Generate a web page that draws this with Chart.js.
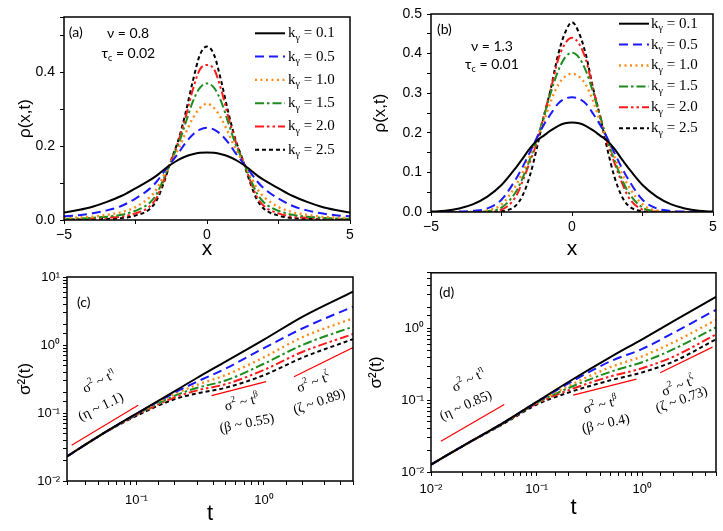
<!DOCTYPE html>
<html lang="en">
<head>
<meta charset="UTF-8">
<title>rho(x,t) and sigma^2(t)</title>
<script src="https://cdn.jsdelivr.net/npm/chart.js"></script>
<style>
  body { margin: 0; background: #fff; }
  #page { position: relative; width: 723px; height: 531px; background: #fff; }
  #page canvas { position: absolute; }
</style>
</head>
<body>
<div id="page">
  <canvas id="chartA" width="362" height="262" style="left:0;top:0"></canvas>
  <canvas id="chartB" width="361" height="262" style="left:362px;top:0"></canvas>
  <canvas id="chartC" width="362" height="269" style="left:0;top:262px"></canvas>
  <canvas id="chartD" width="361" height="269" style="left:362px;top:262px"></canvas>
</div>

<script>
// ---- data ----
const kValues = ['0.1', '0.5', '1.0', '1.5', '2.0', '2.5'];

// panels (a) and (b): rho(x,t) against x
const xGrid = [-5, -4.5, -4, -3.5, -3, -2.5, -2, -1.75, -1.5, -1.25, -1, -0.75, -0.5, -0.25, 0,
               0.25, 0.5, 0.75, 1, 1.25, 1.5, 1.75, 2, 2.5, 3, 3.5, 4, 4.5, 5];

const rhoA01 = [0.020, 0.027, 0.036, 0.049, 0.065, 0.086, 0.108, 0.121, 0.137, 0.151, 0.163, 0.172, 0.178, 0.182, 0.183,
                0.182, 0.178, 0.172, 0.163, 0.151, 0.137, 0.121, 0.108, 0.086, 0.065, 0.049, 0.036, 0.027, 0.020];
const rhoA05 = [0.010, 0.013, 0.018, 0.026, 0.038, 0.058, 0.085, 0.105, 0.131, 0.156, 0.181, 0.209, 0.231, 0.245, 0.250,
                0.245, 0.231, 0.209, 0.181, 0.156, 0.131, 0.105, 0.085, 0.058, 0.038, 0.026, 0.018, 0.013, 0.010];
const rhoA10 = [0.005, 0.007, 0.009, 0.014, 0.021, 0.035, 0.062, 0.085, 0.123, 0.159, 0.192, 0.235, 0.275, 0.303, 0.315,
                0.303, 0.275, 0.235, 0.192, 0.159, 0.123, 0.085, 0.062, 0.035, 0.021, 0.014, 0.009, 0.007, 0.005];
const rhoA15 = [0.003, 0.004, 0.006, 0.009, 0.014, 0.025, 0.047, 0.072, 0.115, 0.161, 0.205, 0.262, 0.320, 0.358, 0.370,
                0.358, 0.320, 0.262, 0.205, 0.161, 0.115, 0.072, 0.047, 0.025, 0.014, 0.009, 0.006, 0.004, 0.003];
const rhoA20 = [0.002, 0.003, 0.004, 0.006, 0.009, 0.018, 0.037, 0.062, 0.109, 0.162, 0.213, 0.278, 0.352, 0.408, 0.420,
                0.408, 0.352, 0.278, 0.213, 0.162, 0.109, 0.062, 0.037, 0.018, 0.009, 0.006, 0.004, 0.003, 0.002];
const rhoA25 = [0.001, 0.0015, 0.002, 0.003, 0.005, 0.012, 0.030, 0.055, 0.103, 0.163, 0.217, 0.290, 0.375, 0.447, 0.470,
                0.447, 0.375, 0.290, 0.217, 0.163, 0.103, 0.055, 0.030, 0.012, 0.005, 0.003, 0.002, 0.0015, 0.001];

const rhoB01 = [0.001, 0.003, 0.009, 0.020, 0.039, 0.068, 0.111, 0.135, 0.160, 0.180, 0.193, 0.206, 0.217, 0.224, 0.226,
                0.224, 0.217, 0.206, 0.193, 0.180, 0.160, 0.135, 0.111, 0.068, 0.039, 0.020, 0.009, 0.003, 0.001];
const rhoB05 = [0.000, 0.000, 0.001, 0.003, 0.009, 0.031, 0.082, 0.114, 0.150, 0.187, 0.220, 0.248, 0.273, 0.286, 0.290,
                0.286, 0.273, 0.248, 0.220, 0.187, 0.150, 0.114, 0.082, 0.031, 0.009, 0.003, 0.001, 0.000, 0.000];
const rhoB10 = [0.000, 0.000, 0.000, 0.001, 0.004, 0.019, 0.066, 0.100, 0.140, 0.185, 0.228, 0.280, 0.320, 0.342, 0.349,
                0.342, 0.320, 0.280, 0.228, 0.185, 0.140, 0.100, 0.066, 0.019, 0.004, 0.001, 0.000, 0.000, 0.000];
const rhoB15 = [0.000, 0.000, 0.000, 0.000, 0.002, 0.011, 0.050, 0.086, 0.132, 0.182, 0.240, 0.302, 0.355, 0.390, 0.402,
                0.390, 0.355, 0.302, 0.240, 0.182, 0.132, 0.086, 0.050, 0.011, 0.002, 0.000, 0.000, 0.000, 0.000];
const rhoB20 = [0.000, 0.000, 0.000, 0.000, 0.001, 0.006, 0.038, 0.078, 0.125, 0.175, 0.243, 0.310, 0.383, 0.425, 0.440,
                0.425, 0.383, 0.310, 0.243, 0.175, 0.125, 0.078, 0.038, 0.006, 0.001, 0.000, 0.000, 0.000, 0.000];
const rhoB25 = [0.000, 0.000, 0.000, 0.000, 0.000, 0.002, 0.016, 0.042, 0.090, 0.160, 0.240, 0.312, 0.395, 0.452, 0.479,
                0.452, 0.395, 0.312, 0.240, 0.160, 0.090, 0.042, 0.016, 0.002, 0.000, 0.000, 0.000, 0.000, 0.000];

// panel (c): sigma^2(t), nu = 0.8
const tC = [0.0285, 0.05, 0.1, 0.2, 0.3, 0.5, 1, 2, 5];
const sigC01 = [0.023, 0.045, 0.098, 0.21, 0.33, 0.57, 1.2, 2.6, 6.1];
const sigC05 = [0.023, 0.045, 0.097, 0.20, 0.29, 0.45, 0.90, 1.75, 3.66];
const sigC10 = [0.023, 0.045, 0.096, 0.19, 0.26, 0.36, 0.66, 1.3, 2.47];
const sigC15 = [0.023, 0.045, 0.095, 0.18, 0.235, 0.30, 0.53, 1.0, 1.86];
const sigC20 = [0.023, 0.045, 0.093, 0.17, 0.215, 0.265, 0.43, 0.79, 1.45];
const sigC25 = [0.023, 0.045, 0.091, 0.16, 0.195, 0.235, 0.36, 0.65, 1.22];
const etaC_t = [0.031, 0.103],  etaC_y = [0.0335, 0.13];
const betaC_t = [0.388, 1.04],  betaC_y = [0.18, 0.29];
const zetaC_t = [1.72, 5.0],    zetaC_y = [0.342, 0.92];

// panel (d): sigma^2(t), nu = 1.3
const tD = [0.01, 0.02, 0.05, 0.1, 0.2, 0.5, 1, 2, 5];
const sigD01 = [0.0127, 0.023, 0.05, 0.095, 0.18, 0.40, 0.71, 1.28, 2.77];
const sigD05 = [0.0127, 0.023, 0.05, 0.094, 0.172, 0.35, 0.52, 0.88, 1.83];
const sigD10 = [0.0127, 0.023, 0.05, 0.093, 0.158, 0.29, 0.41, 0.65, 1.32];
const sigD15 = [0.0127, 0.023, 0.049, 0.092, 0.148, 0.25, 0.34, 0.52, 1.04];
const sigD20 = [0.0127, 0.023, 0.049, 0.090, 0.138, 0.215, 0.28, 0.41, 0.83];
const sigD25 = [0.0127, 0.023, 0.048, 0.087, 0.128, 0.19, 0.245, 0.35, 0.71];
const etaD_t = [0.0124, 0.0494], etaD_y = [0.0268, 0.0875];
const betaD_t = [0.222, 0.883],  betaD_y = [0.118, 0.197];
const zetaD_t = [1.48, 4.63],    zetaD_y = [0.242, 0.551];

// ---- styles ----
const SANS = '"Liberation Sans", Arial, sans-serif';
const SERIF = '"Liberation Serif", "Times New Roman", serif';
const NOTE = 'Lato, "Open Sans", sans-serif';

const curveStyles = [
  { color: '#000000', dash: [], width: 2 },
  { color: '#1a1aff', dash: [9, 5], width: 2 },
  { color: '#ff8c1a', dash: [2, 3.5], width: 2.4 },
  { color: '#1e8c1e', dash: [9, 3, 2.5, 3], width: 2 },
  { color: '#ff1a1a', dash: [9, 3, 2.5, 3, 2.5, 3], width: 2 },
  { color: '#000000', dash: [4, 3], width: 2 }
];

// text with sub/superscript pieces: [text, 0 | 1 (sup) | -1 (sub)]
function drawRich(ctx, parts, x, y, align, family, size) {
  const small = Math.round(size * 0.65);
  let total = 0;
  const widths = parts.map(p => {
    ctx.font = (p[1] ? small : size) + 'px ' + family;
    const w = ctx.measureText(p[0]).width;
    total += w;
    return w;
  });
  let cx = align === 'center' ? x - total / 2 : (align === 'right' ? x - total : x);
  ctx.textAlign = 'left';
  ctx.textBaseline = 'middle';
  parts.forEach((p, i) => {
    ctx.font = (p[1] ? small : size) + 'px ' + family;
    const dy = p[1] === 1 ? -size * 0.38 : (p[1] === -1 ? size * 0.32 : 0);
    ctx.fillText(p[0], cx, y + dy);
    cx += widths[i];
  });
}

function curveSets(xs, series) {
  return series.map((ys, i) => ({
    data: xs.map((x, j) => ({ x: x, y: ys[j] })),
    borderColor: curveStyles[i].color,
    borderDash: curveStyles[i].dash,
    borderWidth: curveStyles[i].width,
    pointRadius: 0,
    cubicInterpolationMode: 'monotone',
    fill: false
  }));
}

function slopeSet(ts, ys) {
  return {
    data: ts.map((t, j) => ({ x: t, y: ys[j] })),
    borderColor: '#ff0000', borderWidth: 1.2, pointRadius: 0, tension: 0, fill: false
  };
}

const SUP = { '-': '\u207B', '0': '\u2070', '1': '\u00B9', '2': '\u00B2', '3': '\u00B3' };
function powLabel(v) {
  const e = Math.log10(v);
  if (Math.abs(e - Math.round(e)) > 1e-6) return '';
  return '10' + String(Math.round(e)).split('').map(c => SUP[c]).join('');
}

function axis(o) {
  return {
    type: o.type,
    position: o.pos,
    min: o.min,
    max: o.max,
    afterFit: o.pos === 'left' ? s => { s.width = o.size; } : s => { s.height = o.size; },
    border: { display: false },
    grid: { drawOnChartArea: false, drawTicks: true, tickLength: o.tl, tickColor: '#000', tickWidth: 1 },
    ticks: {
      stepSize: o.step, autoSkip: false, maxRotation: 0, padding: o.tp, color: '#000',
      font: { family: SANS, size: o.fs }, callback: o.cb
    },
    title: {
      display: true, text: o.title, color: '#000',
      font: { family: SANS, size: o.tfs }, padding: o.tpad
    }
  };
}

const framePlugin = {
  id: 'frame',
  afterDatasetsDraw(chart) {
    const a = chart.chartArea, ctx = chart.ctx;
    ctx.save();
    ctx.strokeStyle = '#000';
    ctx.lineWidth = 1.5;
    ctx.strokeRect(a.left, a.top, a.right - a.left, a.bottom - a.top);
    ctx.restore();
  }
};

function legendPlugin(lg) {
  return {
    id: 'kLegend',
    afterDatasetsDraw(chart) {
      if (!lg) return;
      const a = chart.chartArea, ctx = chart.ctx;
      ctx.save();
      kValues.forEach((k, i) => {
        const ds = chart.data.datasets[i];
        const y = a.top + lg.top + i * lg.gap;
        ctx.strokeStyle = ds.borderColor;
        ctx.lineWidth = ds.borderWidth;
        ctx.setLineDash(ds.borderDash);
        ctx.beginPath();
        ctx.moveTo(a.right - lg.x0, y);
        ctx.lineTo(a.right - lg.x1, y);
        ctx.stroke();
        ctx.setLineDash([]);
        ctx.fillStyle = '#000';
        drawRich(ctx, [['k', 0], ['\u03B3', -1], [' = ' + k, 0]], a.right - lg.tx, y, 'left', SERIF, lg.fs);
      });
      ctx.restore();
    }
  };
}

function notesPlugin(items) {
  return {
    id: 'notes',
    afterDatasetsDraw(chart) {
      const ctx = chart.ctx, xs = chart.scales.x, ys = chart.scales.y;
      items.forEach(n => {
        ctx.save();
        ctx.translate(xs.getPixelForValue(n.x), ys.getPixelForValue(n.y));
        ctx.rotate((n.angle || 0) * Math.PI / 180);
        ctx.fillStyle = '#000';
        drawRich(ctx, n.parts, 0, 0, n.align || 'center', n.family, n.size);
        ctx.restore();
      });
    }
  };
}

function makeChart(id, cfg) {
  return new Chart(document.getElementById(id), {
    type: 'line',
    data: { datasets: cfg.datasets },
    options: {
      responsive: false,
      animation: false,
      layout: { padding: cfg.pad },
      plugins: { legend: { display: false }, tooltip: { enabled: false } },
      scales: { x: cfg.x, y: cfg.y }
    },
    plugins: [framePlugin, notesPlugin(cfg.notes), legendPlugin(cfg.legend)]
  });
}

const xLabel = v => (Math.abs(v % 5) < 1e-6 ? String(v).replace('-', '\u2212') : '');
const sigTitle = '\u03C3\u00B2(t)';
const slopeNote = (sym, size) => [['\u03C3', 0], ['2', 1], [' ~ t', 0], [sym, 1]];

// (a)
makeChart('chartA', {
  datasets: curveSets(xGrid, [rhoA01, rhoA05, rhoA10, rhoA15, rhoA20, rhoA25]),
  pad: { left: 0, top: 17, right: 12, bottom: 0 },
  x: axis({ type: 'linear', pos: 'bottom', min: -5, max: 5, step: 2.5, size: 42, tl: 4, tp: 3, fs: 14,
            cb: xLabel, title: 'x', tfs: 21, tpad: { top: 0, bottom: 0 } }),
  y: axis({ type: 'linear', pos: 'left', min: 0, max: 0.55, step: 0.1, size: 64, tl: 4, tp: 5, fs: 14,
            cb: v => (Math.abs(v * 5 - Math.round(v * 5)) < 1e-6 ? v.toFixed(1) : ''),
            title: '\u03C1(x,t)', tfs: 17, tpad: { top: 15, bottom: 0 } }),
  legend: { top: 16.3, gap: 23.3, x0: 95, x1: 65, tx: 62, fs: 15 },
  notes: [
    { x: -4.83, y: 0.509, parts: [['(a)', 0]], align: 'left', family: NOTE, size: 14 },
    { x: -2.76, y: 0.504, parts: [['\u03BD = 0.8', 0]], family: NOTE, size: 14 },
    { x: -2.75, y: 0.45, parts: [['\u03C4', 0], ['c', -1], [' = 0.02', 0]], family: NOTE, size: 14 }
  ]
});

// (b)
makeChart('chartB', {
  datasets: curveSets(xGrid, [rhoB01, rhoB05, rhoB10, rhoB15, rhoB20, rhoB25]),
  pad: { left: 0, top: 14, right: 10, bottom: 0 },
  x: axis({ type: 'linear', pos: 'bottom', min: -5, max: 5, step: 2.5, size: 50, tl: 4, tp: 3, fs: 14,
            cb: xLabel, title: 'x', tfs: 21, tpad: { top: 0, bottom: 0 } }),
  y: axis({ type: 'linear', pos: 'left', min: 0, max: 0.5, step: 0.05, size: 69, tl: 4, tp: 5, fs: 14,
            cb: v => (Math.abs(v * 10 - Math.round(v * 10)) < 1e-6 ? v.toFixed(1) : ''),
            title: '\u03C1(x,t)', tfs: 17, tpad: { top: 8, bottom: 0 } }),
  legend: { top: 9.7, gap: 20.9, x0: 94, x1: 64, tx: 62, fs: 15 },
  notes: [
    { x: -4.79, y: 0.46, parts: [['(b)', 0]], align: 'left', family: NOTE, size: 14 },
    { x: -2.84, y: 0.418, parts: [['\u03BD = 1.3', 0]], family: NOTE, size: 14 },
    { x: -2.84, y: 0.372, parts: [['\u03C4', 0], ['c', -1], [' = 0.01', 0]], family: NOTE, size: 14 }
  ]
});

// (c)
makeChart('chartC', {
  datasets: curveSets(tC, [sigC01, sigC05, sigC10, sigC15, sigC20, sigC25])
    .concat([slopeSet(etaC_t, etaC_y), slopeSet(betaC_t, betaC_y), slopeSet(zetaC_t, zetaC_y)]),
  pad: { left: 0, top: 15, right: 9, bottom: 0 },
  x: axis({ type: 'logarithmic', pos: 'bottom', min: 0.0285, max: 5, size: 50, tl: 4, tp: 8, fs: 13,
            cb: powLabel, title: 't', tfs: 22, tpad: { top: 0, bottom: 4 } }),
  y: axis({ type: 'logarithmic', pos: 'left', min: 0.01, max: 10, size: 67, tl: 4, tp: 3, fs: 13,
            cb: powLabel, title: sigTitle, tfs: 17, tpad: { top: 15, bottom: 0 } }),
  legend: null,
  notes: [
    { x: 0.0341, y: 4.29, parts: [['(c)', 0]], align: 'left', family: NOTE, size: 14 },
    { x: 0.051, y: 0.286, parts: slopeNote('\u03B7'), family: SERIF, size: 14, angle: -27 },
    { x: 0.0527, y: 0.122, parts: [['(\u03B7 ~ 1.1)', 0]], family: SERIF, size: 14, angle: -26 },
    { x: 0.673, y: 0.14, parts: slopeNote('\u03B2'), family: SERIF, size: 14, angle: -14 },
    { x: 0.736, y: 0.0698, parts: [['(\u03B2 ~ 0.55)', 0]], family: SERIF, size: 14, angle: -11 },
    { x: 2.45, y: 0.276, parts: slopeNote('\u03B6'), family: SERIF, size: 14, angle: -21 },
    { x: 2.72, y: 0.145, parts: [['(\u03B6 ~ 0.89)', 0]], family: SERIF, size: 14, angle: -19 }
  ]
});

// (d)
makeChart('chartD', {
  datasets: curveSets(tD, [sigD01, sigD05, sigD10, sigD15, sigD20, sigD25])
    .concat([slopeSet(etaD_t, etaD_y), slopeSet(betaD_t, betaD_y), slopeSet(zetaD_t, zetaD_y)]),
  pad: { left: 0, top: 2, right: 7, bottom: 0 },
  x: axis({ type: 'logarithmic', pos: 'bottom', min: 0.01, max: 5, size: 59, tl: 4, tp: 6, fs: 13,
            cb: powLabel, title: 't', tfs: 22, tpad: { top: 0, bottom: 10 } }),
  y: axis({ type: 'logarithmic', pos: 'left', min: 0.01, max: 6, size: 69, tl: 4, tp: 3, fs: 13,
            cb: powLabel, title: sigTitle, tfs: 17, tpad: { top: 4, bottom: 0 } }),
  legend: null,
  notes: [
    { x: 0.012, y: 3.16, parts: [['(d)', 0]], align: 'left', family: NOTE, size: 14 },
    { x: 0.0228, y: 0.187, parts: slopeNote('\u03B7'), family: SERIF, size: 14, angle: -27 },
    { x: 0.0214, y: 0.084, parts: [['(\u03B7 ~ 0.85)', 0]], family: SERIF, size: 14, angle: -24 },
    { x: 0.405, y: 0.084, parts: slopeNote('\u03B2'), family: SERIF, size: 14, angle: -15 },
    { x: 0.453, y: 0.0467, parts: [['(\u03B2 ~ 0.4)', 0]], family: SERIF, size: 14, angle: -13 },
    { x: 2.2, y: 0.155, parts: slopeNote('\u03B6'), family: SERIF, size: 14, angle: -21 },
    { x: 2.37, y: 0.101, parts: [['(\u03B6 ~ 0.73)', 0]], family: SERIF, size: 14, angle: -20 }
  ]
});
</script>
</body>
</html>
